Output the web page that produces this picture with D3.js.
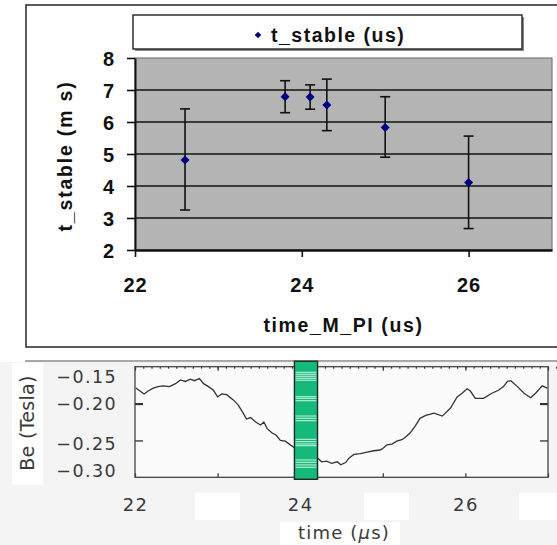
<!DOCTYPE html>
<html><head><meta charset="utf-8">
<script src="https://cdn.jsdelivr.net/npm/d3@7"></script>
<style>html,body{margin:0;padding:0;background:#fff;} svg{display:block}</style>
</head><body>
<svg id="c" width="557" height="545"></svg>
<script>
// ---------- data: top chart ----------
const tPI       = [22.6, 23.8, 24.1, 24.3, 25.0, 26.0];
const tStable   = [4.81, 6.79, 6.78, 6.53, 5.83, 4.11];
const tStableHi = [6.41, 7.29, 7.16, 7.34, 6.79, 5.56];
const tStableLo = [3.25, 6.29, 6.40, 5.73, 4.90, 2.67];
const topYTicks = [2, 3, 4, 5, 6, 7, 8];
const topXTicks = [22, 24, 26];
const legendLabel = "t_stable (us)";
const topXTitle = "time_M_PI (us)";
const topYTitle = "t_stable (m s)";

// ---------- data: bottom chart ----------
const beTime = [22.01,22.06,22.11,22.16,22.22,22.28,22.34,22.42,22.49,22.55,22.61,22.67,22.72,22.78,22.83,22.89,22.95,23.00,23.05,23.11,23.19,23.25,23.31,23.35,23.40,23.46,23.52,23.56,23.60,23.66,23.71,23.76,23.82,23.88,23.93,24.22,24.26,24.32,24.38,24.45,24.49,24.55,24.59,24.65,24.73,24.81,24.89,24.97,25.01,25.05,25.11,25.17,25.23,25.27,25.33,25.39,25.45,25.52,25.62,25.72,25.82,25.90,25.96,26.02,26.06,26.12,26.22,26.32,26.40,26.46,26.51,26.55,26.63,26.71,26.79,26.85,26.93,26.99];
const beField = [-0.179,-0.183,-0.187,-0.183,-0.179,-0.177,-0.176,-0.177,-0.173,-0.168,-0.170,-0.167,-0.169,-0.166,-0.173,-0.177,-0.182,-0.191,-0.187,-0.188,-0.195,-0.202,-0.213,-0.221,-0.219,-0.225,-0.229,-0.225,-0.234,-0.240,-0.243,-0.250,-0.251,-0.256,-0.260,-0.275,-0.279,-0.278,-0.281,-0.279,-0.283,-0.280,-0.274,-0.269,-0.268,-0.266,-0.264,-0.263,-0.260,-0.256,-0.255,-0.251,-0.249,-0.246,-0.240,-0.231,-0.220,-0.216,-0.213,-0.217,-0.206,-0.191,-0.186,-0.180,-0.183,-0.193,-0.193,-0.186,-0.182,-0.177,-0.170,-0.169,-0.177,-0.186,-0.192,-0.186,-0.176,-0.179];
const bandTime = [23.93, 24.21];
const stripeField = [-0.1576,-0.1603,-0.1630,-0.1657,-0.1684,-0.1907,-0.1929,-0.1961,-0.2169,-0.2200,-0.2232,-0.2485,-0.2517,-0.2548,-0.2571,-0.2765,-0.2797,-0.2833,-0.2864];
const botYTicks = [-0.15, -0.20, -0.25, -0.30];
const botYInnerTicks = [-0.20, -0.25];
const botXTicks = [22, 24, 26];
const botXMajor = [22, 23, 24, 25, 26, 27];
const botYTitle = "Be (Tesla)";

// ---------- layout ----------
const svg = d3.select("#c");
const boldFont = "'Liberation Sans', Arial, sans-serif";
const lightFont = "'DejaVu Sans', sans-serif";

const xTop = d3.scaleLinear().domain([22, 27]).range([135, 552]);
const yTop = d3.scaleLinear().domain([2, 8]).range([250, 58]);
const xBot = d3.scaleLinear().domain([22, 27]).range([135, 548]);
const yBot = d3.scaleLinear().domain([-0.30, -0.15]).range([477.3, 366.7]);

// ===== TOP PANEL =====
svg.append("rect").attr("x", 26).attr("y", 5).attr("width", 620).attr("height", 342)
  .attr("fill", "#fff").attr("stroke", "#333").attr("stroke-width", 1.6);

// legend
svg.append("rect").attr("x", 135).attr("y", 17).attr("width", 389).attr("height", 34)
  .attr("fill", "#888");
svg.append("rect").attr("x", 133).attr("y", 15).attr("width", 389).attr("height", 34)
  .attr("fill", "#fff").attr("stroke", "#222").attr("stroke-width", 1.4);
svg.append("path").attr("d", d3.symbol(d3.symbolSquare, 22)())
  .attr("transform", "translate(258,35) rotate(45)").attr("fill", "#000080");
svg.append("text").attr("x", 271).attr("y", 41.5).text(legendLabel)
  .attr("font-family", boldFont).attr("font-weight", "bold").attr("font-size", 19.5)
  .attr("letter-spacing", 1.5).attr("fill", "#111");

// plot area
const [px0, px1] = xTop.range();
const [py1, py0] = yTop.range();
svg.append("rect").attr("x", px0).attr("y", py0).attr("width", px1 - px0).attr("height", py1 - py0)
  .attr("fill", "#b4b4b4").attr("stroke", "#7a7a7a").attr("stroke-width", 1.2);

// gridlines
svg.append("g").selectAll("line").data(topYTicks.slice(1, -1)).join("line")
  .attr("x1", px0).attr("x2", px1).attr("y1", d => yTop(d)).attr("y2", d => yTop(d))
  .attr("stroke", "#151515").attr("stroke-width", 1.6);

// axes
const gy = svg.append("g").attr("transform", `translate(${px0},0)`)
  .call(d3.axisLeft(yTop).tickValues(topYTicks).tickSize(8).tickSizeOuter(0).tickPadding(12).tickFormat(d3.format("d")));
const gx = svg.append("g").attr("transform", `translate(0,${py1})`)
  .call(d3.axisBottom(xTop).tickValues(topXTicks).tickSize(7).tickSizeOuter(0).tickPadding(21).tickFormat(d3.format("d")));
[gy, gx].forEach(g => {
  g.select(".domain").attr("stroke", "#111").attr("stroke-width", 2);
  g.selectAll(".tick line").attr("stroke", "#111").attr("stroke-width", 1.6);
  g.selectAll(".tick text").attr("font-family", boldFont).attr("font-weight", "bold")
    .attr("font-size", 20).attr("fill", "#111").attr("letter-spacing", 1);
});
gx.select(".domain").attr("stroke-width", 2.4);
gy.selectAll(".tick text").attr("dy", "0.38em");

// error bars
const eb = svg.append("g").attr("stroke", "#111").attr("stroke-width", 1.6);
tPI.forEach((t, i) => {
  const x = xTop(t);
  eb.append("line").attr("x1", x).attr("x2", x).attr("y1", yTop(tStableLo[i])).attr("y2", yTop(tStableHi[i]));
  eb.append("line").attr("x1", x - 5).attr("x2", x + 5).attr("y1", yTop(tStableLo[i])).attr("y2", yTop(tStableLo[i]));
  eb.append("line").attr("x1", x - 5).attr("x2", x + 5).attr("y1", yTop(tStableHi[i])).attr("y2", yTop(tStableHi[i]));
});
// points
svg.append("g").selectAll("path").data(tPI).join("path")
  .attr("d", d3.symbol(d3.symbolSquare, 40)())
  .attr("transform", (d, i) => `translate(${xTop(d)},${yTop(tStable[i])}) rotate(45)`)
  .attr("fill", "#000080");

// titles
svg.append("text").attr("x", (px0 + px1) / 2).attr("y", 332).attr("text-anchor", "middle")
  .text(topXTitle).attr("font-family", boldFont).attr("font-weight", "bold")
  .attr("font-size", 19.5).attr("letter-spacing", 1.6).attr("fill", "#111");
svg.append("text").attr("transform", "translate(72,156) rotate(-90)").attr("text-anchor", "middle")
  .text(topYTitle).attr("font-family", boldFont).attr("font-weight", "bold")
  .attr("font-size", 19.5).attr("letter-spacing", 1.8).attr("fill", "#111");

// ===== BOTTOM PANEL =====
svg.append("rect").attr("x", 0).attr("y", 362).attr("width", 557).attr("height", 183).attr("fill", "#f4f4f4");
svg.append("line").attr("x1", 25).attr("x2", 557).attr("y1", 361).attr("y2", 361)
  .attr("stroke", "#a8a8a8").attr("stroke-width", 2);
// white patches in the scanned picture
[[12, 363, 31, 122], [195, 493, 45, 27], [364, 493, 45, 27], [519, 493, 40, 27], [280, 522, 120, 23]]
  .forEach(r => svg.append("rect").attr("x", r[0]).attr("y", r[1]).attr("width", r[2]).attr("height", r[3]).attr("fill", "#fff"));

const [bx0, bx1] = xBot.range();
const [by1, by0] = yBot.range();
svg.append("rect").attr("x", bx0).attr("y", by0).attr("width", bx1 - bx0).attr("height", by1 - by0)
  .attr("fill", "#fbfbfb");

// line
svg.append("path").datum(beTime.map((t, i) => [t, beField[i]]))
  .attr("d", d3.line().x(d => xBot(d[0])).y(d => yBot(d[1])))
  .attr("fill", "none").attr("stroke", "#333").attr("stroke-width", 1.3);

// ticks
const tickStyle = g => { g.select(".domain").remove(); g.selectAll("text").remove();
  g.selectAll(".tick line").attr("stroke", "#333").attr("stroke-width", 1.2); };
svg.append("g").attr("transform", `translate(0,${by0})`)
  .call(d3.axisBottom(xBot).tickValues(d3.range(221, 275).map(v => v / 10)).tickSize(2)).call(tickStyle);
svg.append("g").attr("transform", `translate(0,${by0})`)
  .call(d3.axisBottom(xBot).tickValues(botXMajor).tickSize(4)).call(tickStyle);
svg.append("g").attr("transform", `translate(0,${by1})`)
  .call(d3.axisTop(xBot).tickValues(botXMajor).tickSize(4)).call(tickStyle);
svg.append("g").attr("transform", `translate(${bx0},0)`)
  .call(d3.axisRight(yBot).tickValues(botYInnerTicks).tickSize(8)).call(tickStyle)
  .selectAll(".tick line").attr("stroke-width", (d, i) => i === 0 ? 2.2 : 1.3);
svg.append("g").attr("transform", `translate(${bx1},0)`)
  .call(d3.axisLeft(yBot).tickValues(botYInnerTicks).tickSize(8)).call(tickStyle)
  .selectAll(".tick line").attr("stroke-width", (d, i) => i === 0 ? 2.2 : 1.3);

// frame
svg.append("rect").attr("x", bx0).attr("y", by0).attr("width", bx1 - bx0).attr("height", by1 - by0)
  .attr("fill", "none").attr("stroke", "#444").attr("stroke-width", 1.3);

// green band with stripes
const bandX0 = xBot(bandTime[0]), bandX1 = xBot(bandTime[1]);
svg.append("rect").attr("x", bandX0).attr("y", by0 - 5.5).attr("width", bandX1 - bandX0).attr("height", by1 - by0 + 7.5)
  .attr("fill", "#15b97c");
svg.append("g").selectAll("line").data(stripeField).join("line")
  .attr("x1", bandX0 + 1).attr("x2", bandX1 - 1).attr("y1", d => yBot(d)).attr("y2", d => yBot(d))
  .attr("stroke", "#bdeedb").attr("stroke-width", 1.1);
svg.append("rect").attr("x", bandX0).attr("y", by0 - 5.5).attr("width", bandX1 - bandX0).attr("height", by1 - by0 + 7.5)
  .attr("fill", "none").attr("stroke", "#1d2b24").attr("stroke-width", 1.4);

// labels
const botYLabelNudge = [10, 0, 3.5, -7];
const gyl = svg.append("g").attr("transform", `translate(${bx0},0)`)
  .call(d3.axisLeft(yBot).tickValues(botYTicks).tickSize(0).tickPadding(18).tickFormat(d3.format(".2f")));
gyl.select(".domain").remove();
gyl.selectAll(".tick text").attr("font-family", lightFont).attr("font-size", 17.5)
  .attr("letter-spacing", 1.4).attr("fill", "#3a3a3a")
  .attr("dy", (d, i) => (botYLabelNudge[i] + 6) + "px");
const gxl = svg.append("g").attr("transform", `translate(0,${by1})`)
  .call(d3.axisBottom(xBot).tickValues(botXTicks).tickSize(0).tickPadding(21).tickFormat(d3.format("d")));
gxl.select(".domain").remove();
gxl.selectAll(".tick text").attr("font-family", lightFont).attr("font-size", 18)
  .attr("letter-spacing", 1.4).attr("fill", "#3a3a3a");

const tt = svg.append("text").attr("x", 344).attr("y", 539).attr("text-anchor", "middle")
  .attr("font-family", lightFont).attr("font-size", 18).attr("letter-spacing", 1.2).attr("fill", "#3a3a3a");
tt.append("tspan").text("time (");
tt.append("tspan").attr("font-style", "italic").text("\u03bc");
tt.append("tspan").text("s)");

svg.append("text").attr("transform", "translate(34,423) rotate(-90)").attr("text-anchor", "middle")
  .text(botYTitle).attr("font-family", lightFont).attr("font-size", 19)
  .attr("letter-spacing", 0.3).attr("fill", "#3a3a3a");
</script>
</body></html>
